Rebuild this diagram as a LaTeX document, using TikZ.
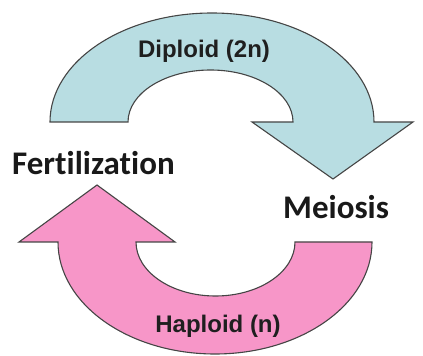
\documentclass[tikz,border=0pt]{standalone}
\usepackage{fontspec}
\newfontfamily\labfont{Liberation Sans}
\newfontfamily\bigfont[Ligatures={NoCommon,NoRare,NoDiscretionary}]{Carlito}
\definecolor{diplo}{HTML}{B8DDE2}
\definecolor{haplo}{HTML}{F796C8}
\definecolor{edge}{HTML}{454545}
\tikzset{
  cyclearrow/.style={draw=edge, line width=1.1pt, line join=miter},
  inlabel/.style={font=\labfont\bfseries\fontsize{24}{28}\selectfont, text=black!88, inner sep=0pt},
  biglabel/.style={font=\bigfont\bfseries\fontsize{33}{38}\selectfont, text=black!90, inner sep=0pt}
}
\begin{document}
\begin{tikzpicture}[x=1pt,y=1pt]
\useasboundingbox (0,0) rectangle (423,356);
% top (diploid) arrow
\path[cyclearrow, fill=diplo]
  (50,234) arc[start angle=180, end angle=0, x radius=162, y radius=109]
  -- (413,234) -- (333,177) -- (252,234) -- (293,234)
  arc[start angle=0, end angle=180, x radius=82.5, y radius=52] -- cycle;
% bottom (haploid) arrow
\path[cyclearrow, fill=haplo]
  (372,114) arc[start angle=0, end angle=-180, x radius=157, y radius=112]
  -- (19,114) -- (97,171) -- (175,114) -- (136,114)
  arc[start angle=180, end angle=360, x radius=79.5, y radius=54] -- cycle;
\node[inlabel, anchor=base] (dip) at (204,298) {Diploid (2n)};
\node[inlabel, anchor=base] (hap) at (218,23) {Haploid (n)};
\node[biglabel, anchor=base west] (fert) at (12,181) {Fertilization};
\node[biglabel, anchor=base west] (mei) at (283,137) {Meiosis};
\end{tikzpicture}
\end{document}
